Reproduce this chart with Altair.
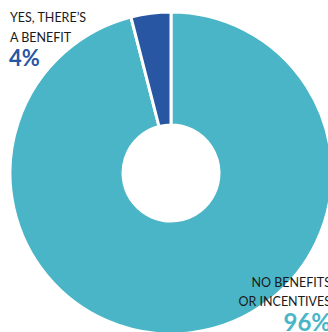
import altair as alt
import pandas as pd

categories = ["No Benefits Or Incentives", "Yes, There's A Benefit"]
values = [96, 4]
colors = ["#4AB5C7", "#2856A3"]

df = pd.DataFrame({"category": categories, "value": values, "order": [0, 1]})

CX, CY = 171, 173

arc = alt.Chart(df).mark_arc(
    outerRadius=161, innerRadius=48, stroke="white", strokeWidth=3
).encode(
    theta=alt.Theta("value:Q", stack=True),
    order=alt.Order("order:Q"),
    color=alt.Color("category:N", scale=alt.Scale(domain=categories, range=colors), legend=None),
    x=alt.value(CX),
    y=alt.value(CY),
)

font = "Lato"

def label(txt, x, y, size, color, align, weight="normal"):
    return alt.Chart(pd.DataFrame({"t": [txt]})).mark_text(
        align=align, baseline="alphabetic", fontSize=size, font=font,
        color=color, fontWeight=weight
    ).encode(text="t:N", x=alt.value(x), y=alt.value(y))

layers = [
    arc,
    label("YES, THERE\u2019S", 10, 22, 12.5, "#1a1a1a", "left"),
    label("A BENEFIT", 10, 42, 12.5, "#1a1a1a", "left"),
    label(f"{values[1]}%", 9, 66, 22, colors[1], "left", "bold"),
    label("NO BENEFITS", 331, 287, 12.5, "#1a1a1a", "right"),
    label("OR INCENTIVES", 331, 306, 12.5, "#1a1a1a", "right"),
    label(f"{values[0]}%", 331, 331, 24, colors[0], "right", "bold"),
]

chart = alt.layer(*layers).properties(
    width=328, height=332, padding=0, autosize=alt.AutoSizeParams(type="none")
).configure_view(stroke=None)

chart.save("out.html", embed_options={"renderer": "svg", "actions": False})
